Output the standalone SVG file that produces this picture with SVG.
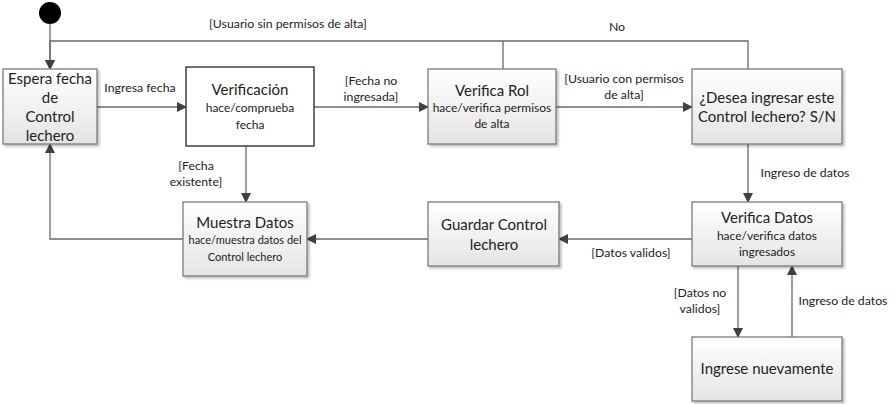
<svg xmlns="http://www.w3.org/2000/svg" width="895" height="404" viewBox="0 0 895 404">
<defs>
<linearGradient id="g" x1="0" y1="0" x2="0" y2="1">
<stop offset="0" stop-color="#ffffff"/>
<stop offset="1" stop-color="#e4e4e4"/>
</linearGradient>
<marker id="a" markerWidth="10" markerHeight="10" refX="9" refY="5" orient="auto" markerUnits="userSpaceOnUse">
<path d="M0,0 L10,5 L0,10 z" fill="#404040"/>
</marker>
<filter id="sh" x="-10%" y="-10%" width="130%" height="130%">
<feDropShadow dx="2" dy="2" stdDeviation="1.2" flood-color="#000" flood-opacity="0.25"/>
</filter>
</defs>
<style>
.box{fill:url(#g);stroke:#7a7a7a;stroke-width:1.3;filter:url(#sh)}
.t{font-family:Lato,"Open Sans",sans-serif;fill:#222;text-anchor:middle}
.big{font-size:15px}
.sm{font-size:12px}
.lb{font-family:Lato,"Open Sans",sans-serif;font-size:12.3px;fill:#222;text-anchor:middle}
.c{fill:none;stroke:#6a6a6a;stroke-width:1.3}
.ca{fill:none;stroke:#6a6a6a;stroke-width:1.3;marker-end:url(#a)}
</style>
<rect width="895" height="404" fill="#fff"/>

<g id="connectors">
<path class="ca" d="M50,24 V69"/>
<path class="ca" d="M748,69 V41 H50 V69"/>
<path class="c" d="M503,69 V41"/>
<path class="ca" d="M97,107 H186"/>
<path class="ca" d="M314,107 H428"/>
<path class="ca" d="M556,107 H692"/>
<path class="ca" d="M748,144 V202"/>
<path class="ca" d="M692,239 H559"/>
<path class="ca" d="M428,239 H307"/>
<path class="ca" d="M183,239 H50 V144"/>
<path class="ca" d="M246,146 V202"/>
<path class="ca" d="M738,266 V337"/>
<path class="ca" d="M792,337 V266"/>
<text class="lb" x="288" y="28">[Usuario sin permisos de alta]</text>
<text class="lb" x="617" y="31">No</text>
<text class="lb" x="140" y="92">Ingresa fecha</text>
<text class="lb" x="371" y="85">[Fecha no</text>
<text class="lb" x="371" y="101">ingresada]</text>
<text class="lb" x="624" y="83">[Usuario con permisos</text>
<text class="lb" x="624" y="99">de alta]</text>
<text class="lb" x="805" y="177">Ingreso de datos</text>
<text class="lb" x="631" y="257">[Datos validos]</text>
<text class="lb" x="196" y="170">[Fecha</text>
<text class="lb" x="196" y="186">existente]</text>
<text class="lb" x="700" y="297">[Datos no</text>
<text class="lb" x="700" y="313">validos]</text>
<text class="lb" x="843" y="305">Ingreso de datos</text>
</g>

<g id="start"><circle cx="50" cy="13" r="11" fill="#000"/></g>

<g id="espera">
<rect class="box" x="3" y="69" width="94" height="75"/>
<text class="t big" x="50" y="84">Espera fecha</text>
<text class="t big" x="50" y="103">de</text>
<text class="t big" x="50" y="122">Control</text>
<text class="t big" x="50" y="141">lechero</text>
</g>

<g id="verificacion">
<rect x="186" y="67" width="128" height="79" fill="#fff" stroke="#222" stroke-width="1.3"/>
<text class="t big" x="250" y="95">Verificación</text>
<text class="t sm" x="250" y="112">hace/comprueba</text>
<text class="t sm" x="250" y="129">fecha</text>
</g>

<g id="verificarol">
<rect class="box" x="428" y="69" width="128" height="75"/>
<text class="t big" x="492" y="96">Verifica Rol</text>
<text class="t sm" x="492" y="112">hace/verifica permisos</text>
<text class="t sm" x="492" y="128">de alta</text>
</g>

<g id="desea">
<rect class="box" x="692" y="69" width="150" height="75"/>
<text class="t big" x="767" y="103">¿Desea ingresar este</text>
<text class="t big" x="767" y="122">Control lechero? S/N</text>
</g>

<g id="muestra">
<rect class="box" x="183" y="202" width="124" height="74"/>
<text class="t big" x="245" y="228">Muestra Datos</text>
<text class="t" x="245" y="244" font-size="11">hace/muestra datos del</text>
<text class="t" x="245" y="261" font-size="11">Control lechero</text>
</g>

<g id="guardar">
<rect class="box" x="428" y="202" width="131" height="64"/>
<text class="t big" x="494" y="230">Guardar Control</text>
<text class="t big" x="494" y="250">lechero</text>
</g>

<g id="verificadatos">
<rect class="box" x="692" y="202" width="150" height="64"/>
<text class="t big" x="767" y="223">Verifica Datos</text>
<text class="t sm" x="767" y="240">hace/verifica datos</text>
<text class="t sm" x="767" y="256">ingresados</text>
</g>

<g id="ingrese">
<rect class="box" x="692" y="337" width="150" height="64"/>
<text class="t big" x="767" y="374">Ingrese nuevamente</text>
</g>
</svg>
